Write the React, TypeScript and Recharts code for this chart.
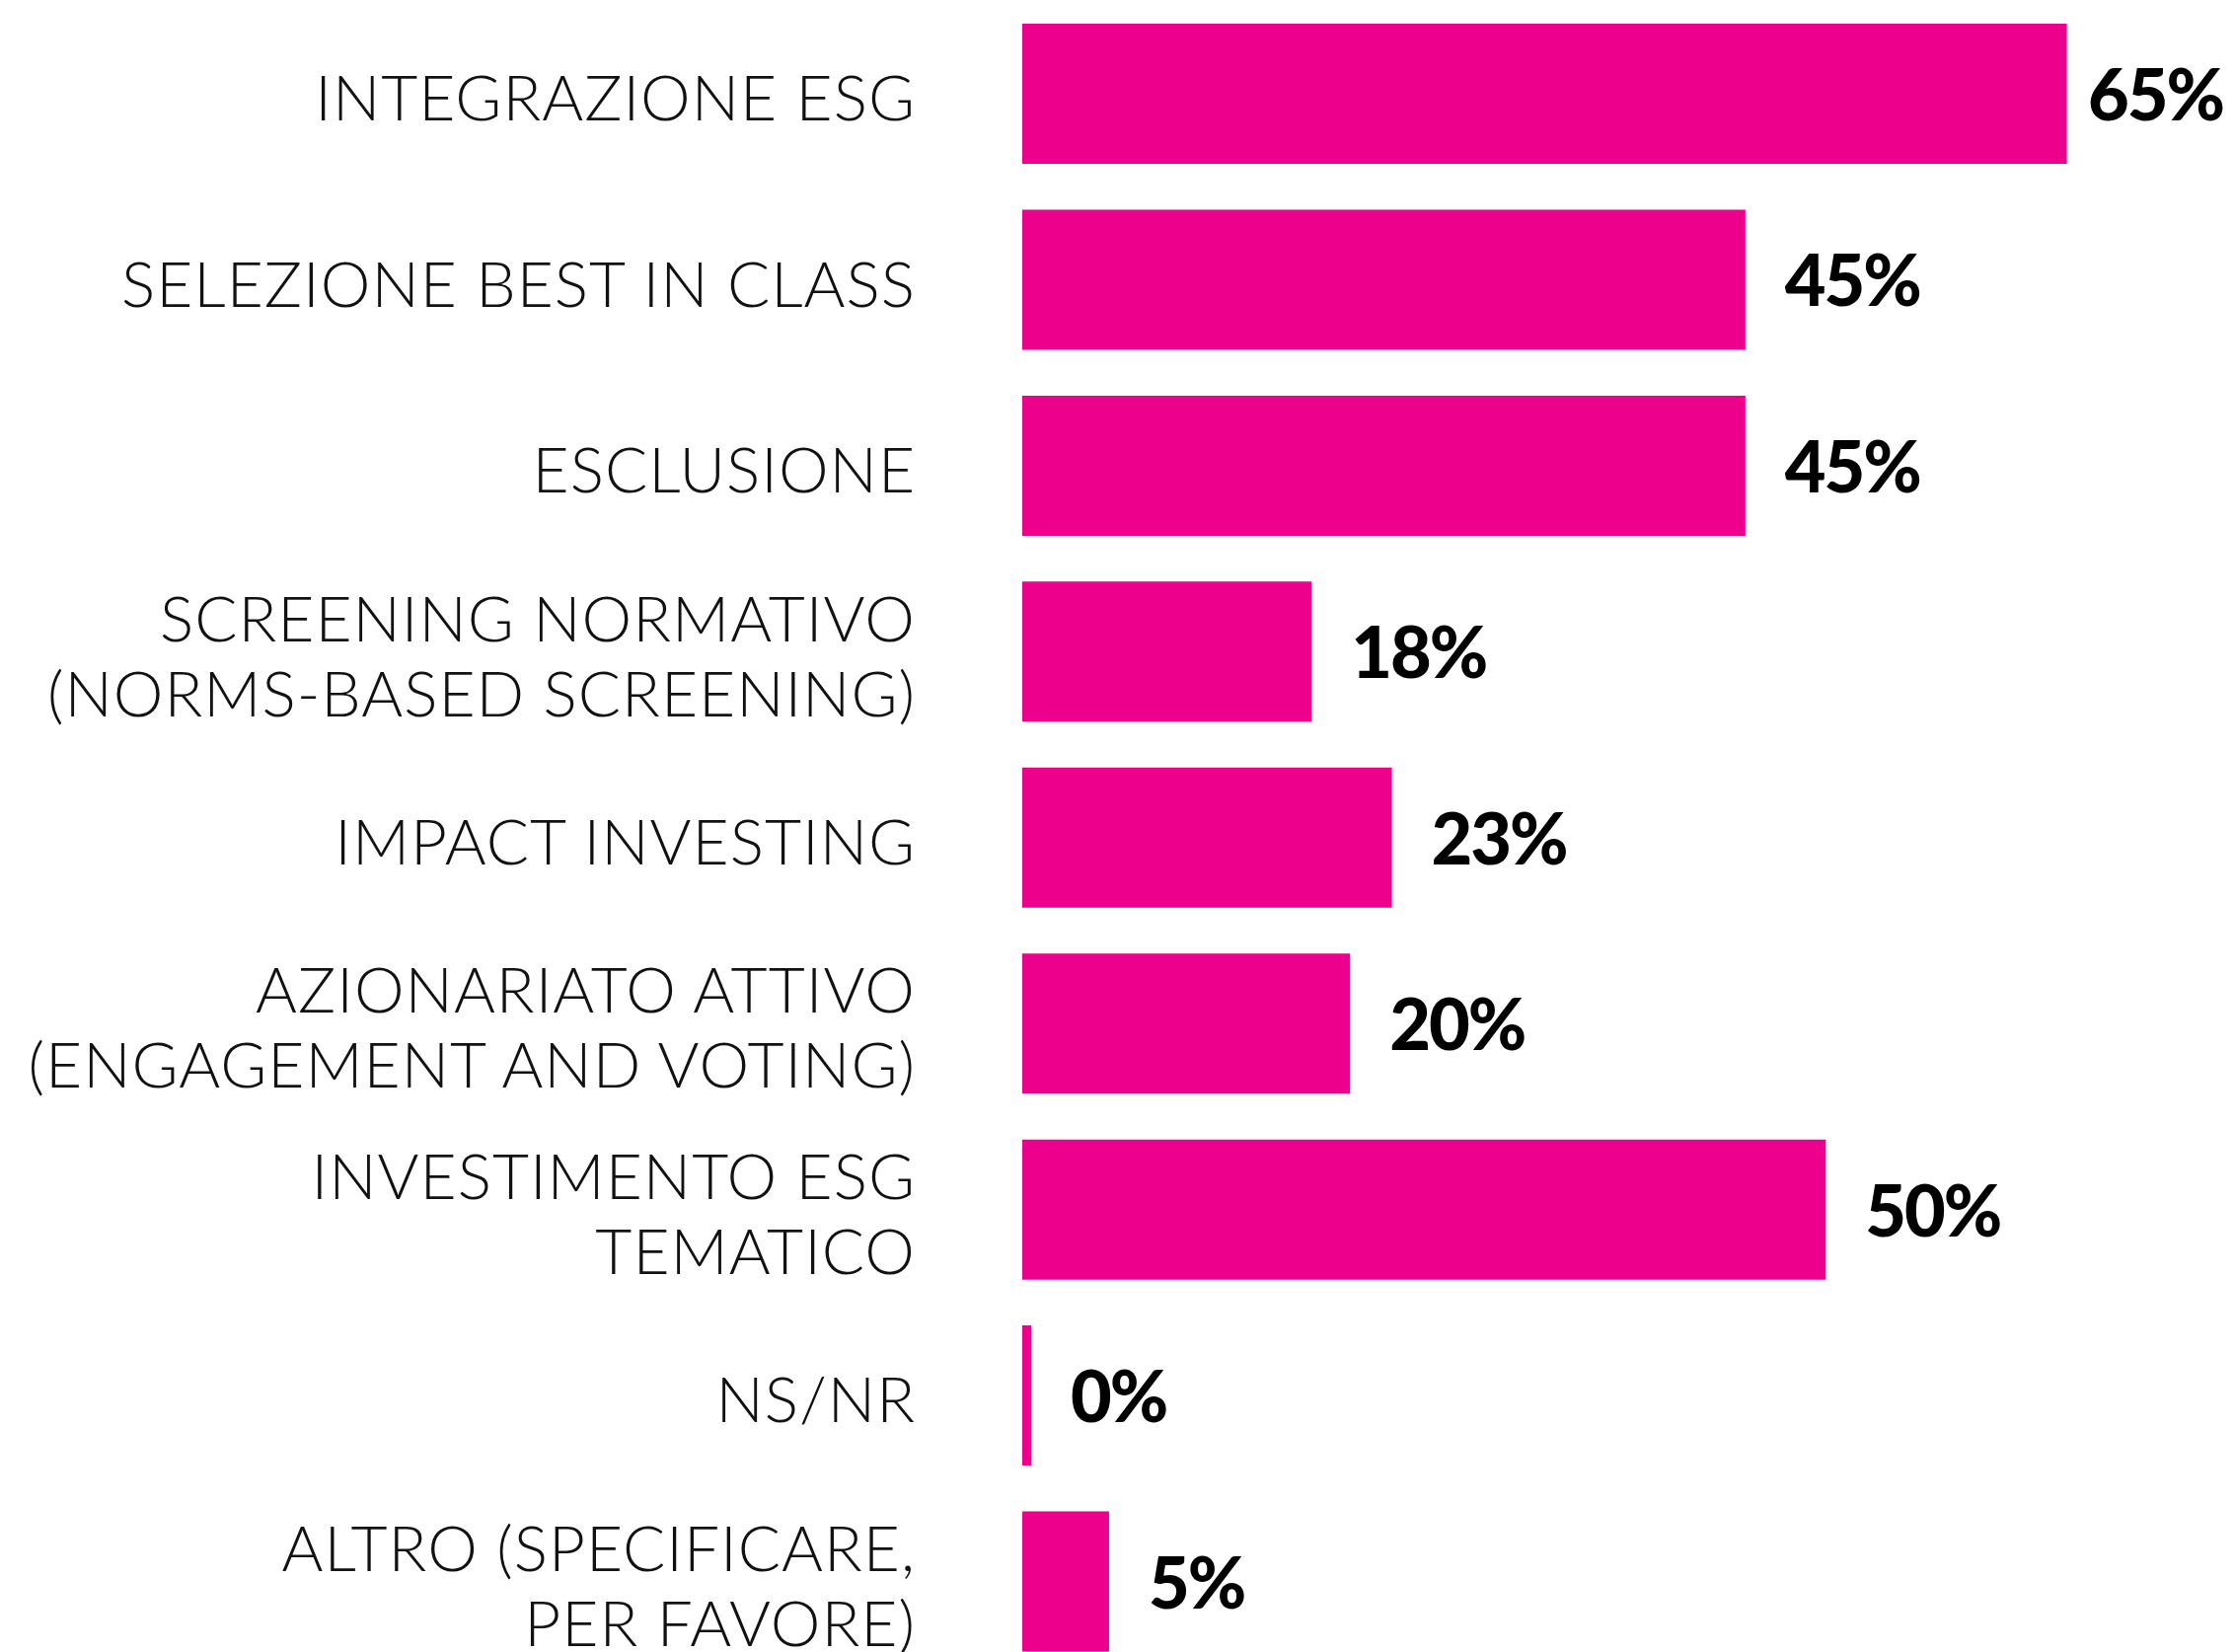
import React from "react";
import { BarChart, Bar, XAxis, YAxis, LabelList } from "recharts";

// categories (line breaks with \n)
const categories = [
  "INTEGRAZIONE ESG",
  "SELEZIONE BEST IN CLASS",
  "ESCLUSIONE",
  "SCREENING NORMATIVO\n(NORMS-BASED SCREENING)",
  "IMPACT INVESTING",
  "AZIONARIATO ATTIVO\n(ENGAGEMENT AND VOTING)",
  "INVESTIMENTO ESG\nTEMATICO",
  "NS/NR",
  "ALTRO (SPECIFICARE,\nPER FAVORE)",
];

// share of respondents, %
const shares = [65, 45, 45, 18, 23, 20.4, 50, 0, 5.4];

const data = categories.map((name, i) => ({ name, value: shares[i] }));

const MAGENTA = "#EC008C";
const LABEL_RIGHT = 928;
// keep the widest value label inside the frame
const MAX_LABEL_X = 2116;

function CategoryTick(props: any) {
  const { y, payload } = props;
  const lines = String(payload.value).split("\n");
  const lineH = 76;
  const first = y + 27 - ((lines.length - 1) * lineH) / 2;
  return (
    <text
      textAnchor="end"
      fill="#111"
      fontFamily="Lato, 'Open Sans', sans-serif"
      fontWeight={300}
      fontSize={64}
      letterSpacing={1}
    >
      {lines.map((l, i) => (
        <tspan key={i} x={LABEL_RIGHT} y={first + i * lineH}>
          {l}
        </tspan>
      ))}
    </text>
  );
}

function ValueLabel(props: any) {
  const { x, y, width, height, value } = props;
  return (
    <text
      x={Math.min(x + width + 40, MAX_LABEL_X)}
      y={y + height / 2 + 27}
      fill="#000"
      fontFamily="Lato, sans-serif"
      fontWeight={900}
      fontSize={72}
      letterSpacing={-2}
    >
      {`${Math.round(value)}%`}
    </text>
  );
}

export default function App() {
  return (
    <div
      style={{
        position: "absolute",
        left: 0,
        top: 0,
        width: 2264,
        height: 1674,
        overflow: "hidden",
        background: "#fff",
      }}
    >
      <BarChart
        layout="vertical"
        width={2264}
        height={1700}
        data={data}
        margin={{ top: 1, right: 88, bottom: 3, left: 0 }}
      >
        <XAxis type="number" domain={[0, 70]} hide />
        <YAxis
          type="category"
          dataKey="name"
          width={1036}
          axisLine={false}
          tickLine={false}
          interval={0}
          tick={<CategoryTick />}
        />
        <Bar dataKey="value" fill={MAGENTA} barSize={142} minPointSize={9} isAnimationActive={false}>
          <LabelList dataKey="value" content={<ValueLabel />} />
        </Bar>
      </BarChart>
    </div>
  );
}
